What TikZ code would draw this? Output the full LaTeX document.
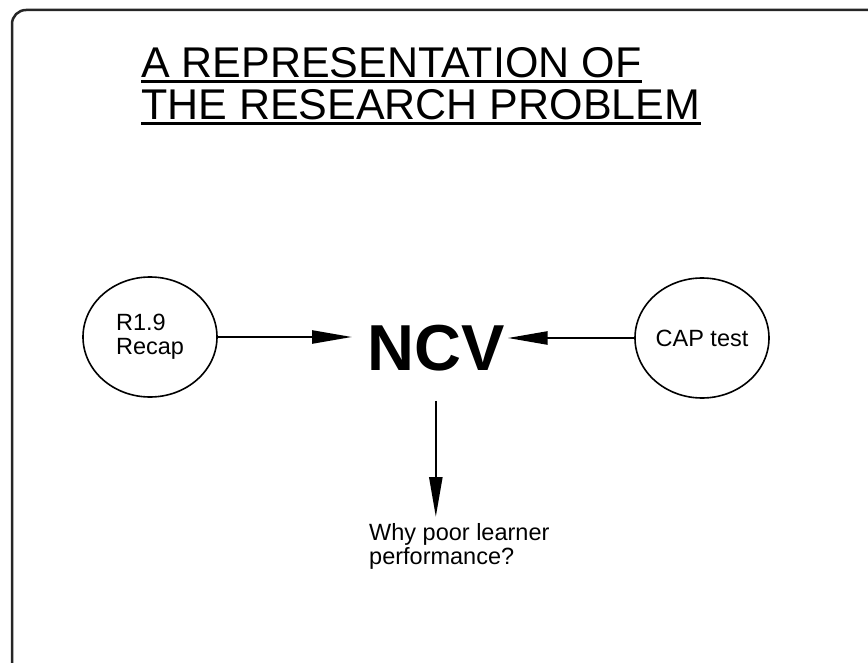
\documentclass[tikz,border=0pt]{standalone}
\usepackage{fontspec}
\setmainfont{Liberation Sans}
\usetikzlibrary{shapes.geometric,arrows.meta}
\tikzset{
    frame/.style={line width=2.5pt, draw=black!85, rounded corners=14pt},
    heading/.style={inner sep=0pt, anchor=base west, font=\fontsize{43}{46}\selectfont},
    uline/.style={line width=2.2pt},
    topic/.style={ellipse, draw, line width=1.6pt, minimum width=134pt, minimum height=120pt,
        inner sep=0pt, align=left, font=\fontsize{23.5}{24}\selectfont},
    arr/.style={line width=2.5pt, -{Triangle[length=40pt,width=13pt]}},
}
\begin{document}
\begin{tikzpicture}[x=1pt,y=-1pt]
    \useasboundingbox (0,0) rectangle (868,663);
    \draw[frame] (12,10) rectangle (884,676);
    % title
    \node[heading] (title1) at (141,78) {A REPRESENTATION OF};
    \node[heading] (title2) at (141,120) {THE RESEARCH PROBLEM};
    \draw[uline] ([yshift=-3.5pt]title1.base west) -- ([yshift=-3.5pt]title1.base east);
    \draw[uline] ([yshift=-3.5pt]title2.base west) -- ([yshift=-3.5pt]title2.base east);
    % nodes
    \node[inner sep=0pt, anchor=base west, font=\bfseries\fontsize{65}{65}\selectfont] (ncv) at (367,370) {NCV};
    \node[topic] (recap) at (150,337) {R1.9\\Recap};
    \node[topic] (cap) at (702,338) {CAP test};
    \node[inner sep=0pt, anchor=north west, align=left, font=\fontsize{23.5}{24}\selectfont] (why) at (369,523) {Why poor learner\\performance?};
    % arrows
    \draw[arr] (recap.east) -- ([xshift=-15pt]ncv.west |- recap.east);
    \draw[arr] (cap.west) -- ([xshift=3pt]ncv.east |- cap.west);
    \draw[arr] ([yshift=-30pt]ncv.south) -- ([yshift=6pt]ncv.south |- why.north);
\end{tikzpicture}
\end{document}
